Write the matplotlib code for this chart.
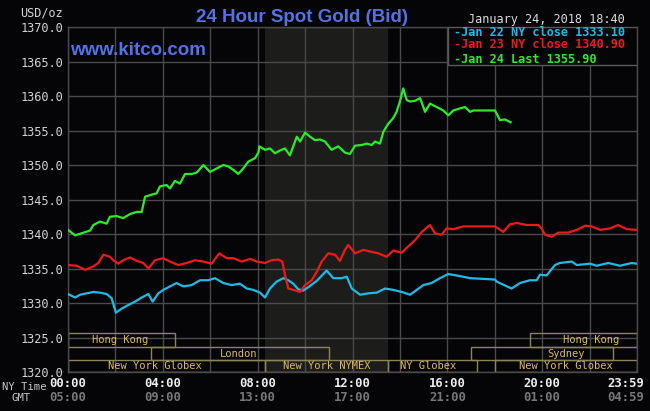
import matplotlib
matplotlib.use("Agg")
import matplotlib.pyplot as plt
import matplotlib.transforms as mtransforms
from matplotlib.patches import Rectangle

# --- values: hours after 00:00 NY time, price in USD/oz ---
jan22_t = [0.0, 0.30, 0.51, 0.79, 1.07, 1.35, 1.63, 1.84, 2.02, 2.27, 2.54, 2.83,
           3.11, 3.39, 3.57, 3.81, 4.02, 4.30, 4.58, 4.86, 5.22, 5.57, 5.92, 6.20,
           6.55, 6.90, 7.25, 7.54, 7.82, 8.10, 8.31, 8.52, 8.80, 9.08, 9.29, 9.50,
           9.71, 9.92, 10.14, 10.49, 10.91, 11.19, 11.54, 11.76, 11.97, 12.32, 12.67,
           13.02, 13.37, 13.72, 14.08, 14.43, 14.71, 14.99, 15.34, 15.69, 16.04, 16.53,
           16.96, 18.01, 18.08, 18.71, 19.07, 19.49, 19.77, 19.91, 20.19, 20.54, 20.75,
           21.25, 21.46, 22.02, 22.30, 22.79, 23.28, 23.78, 23.99]
jan22_v = [1331.3, 1330.8, 1331.2, 1331.4, 1331.6, 1331.5, 1331.3, 1330.7, 1328.6, 1329.2,
           1329.7, 1330.2, 1330.8, 1331.3, 1330.2, 1331.4, 1331.9, 1332.4, 1332.9, 1332.4,
           1332.6, 1333.3, 1333.3, 1333.6, 1332.9, 1332.6, 1332.8, 1332.1, 1331.9, 1331.5,
           1330.8, 1332.1, 1333.1, 1333.6, 1333.3, 1332.8, 1332.0, 1331.8, 1332.3, 1333.2,
           1334.7, 1333.6, 1333.6, 1333.8, 1332.1, 1331.2, 1331.4, 1331.5, 1332.1, 1331.9,
           1331.6, 1331.2, 1331.9, 1332.6, 1332.9, 1333.6, 1334.2, 1333.9, 1333.6, 1333.4,
           1333.1, 1332.1, 1332.9, 1333.3, 1333.3, 1334.1, 1334.0, 1335.5, 1335.8, 1336.0,
           1335.5, 1335.7, 1335.4, 1335.8, 1335.4, 1335.8, 1335.7]

jan23_t = [0.0, 0.37, 0.72, 1.07, 1.28, 1.49, 1.77, 1.91, 2.12, 2.33, 2.62, 2.90,
           3.18, 3.39, 3.67, 4.02, 4.30, 4.65, 5.01, 5.36, 5.71, 6.06, 6.38, 6.69,
           6.97, 7.33, 7.68, 7.96, 8.31, 8.59, 8.87, 9.04, 9.15, 9.29, 9.50, 9.79,
           10.00, 10.28, 10.49, 10.70, 10.98, 11.26, 11.47, 11.68, 11.82, 12.11, 12.46,
           12.81, 13.09, 13.44, 13.72, 14.08, 14.35, 14.64, 14.92, 15.27, 15.48, 15.76,
           15.97, 16.25, 16.67, 17.10, 18.01, 18.36, 18.64, 18.93, 19.35, 19.84, 19.98,
           20.12, 20.40, 20.68, 21.10, 21.46, 21.81, 22.09, 22.44, 22.86, 23.21, 23.57,
           23.99]
jan23_v = [1335.5, 1335.4, 1334.8, 1335.3, 1335.8, 1337.0, 1336.7, 1336.2, 1335.7, 1336.2,
           1336.6, 1336.1, 1335.8, 1335.0, 1336.2, 1336.5, 1336.0, 1335.5, 1335.8, 1336.2,
           1336.0, 1335.7, 1337.2, 1336.5, 1336.5, 1336.0, 1336.4, 1336.0, 1335.8, 1336.2,
           1336.3, 1336.0, 1334.1, 1332.1, 1331.9, 1331.6, 1332.6, 1333.3, 1334.5, 1336.0,
           1337.2, 1337.0, 1336.1, 1337.7, 1338.4, 1337.2, 1337.7, 1337.4, 1337.2, 1336.7,
           1337.6, 1337.3, 1338.2, 1339.1, 1340.3, 1341.3, 1340.1, 1339.9, 1340.8, 1340.7,
           1341.1, 1341.1, 1341.1, 1340.3, 1341.4, 1341.6, 1341.3, 1341.3, 1340.8, 1339.9,
           1339.6, 1340.2, 1340.2, 1340.6, 1341.2, 1341.1, 1340.6, 1340.8, 1341.3, 1340.7,
           1340.6]

jan24_t = [0.0, 0.30, 0.93, 1.07, 1.35, 1.63, 1.77, 2.05, 2.33, 2.62, 2.90, 3.11,
           3.25, 3.53, 3.74, 3.88, 4.16, 4.30, 4.51, 4.72, 4.94, 5.22, 5.43, 5.71,
           5.99, 6.27, 6.55, 6.76, 6.97, 7.18, 7.39, 7.61, 7.89, 8.03, 8.07, 8.31,
           8.52, 8.73, 8.94, 9.15, 9.36, 9.65, 9.79, 10.00, 10.21, 10.42, 10.63, 10.84,
           11.12, 11.40, 11.68, 11.89, 12.11, 12.39, 12.60, 12.81, 12.95, 13.16, 13.30,
           13.51, 13.72, 13.86, 14.00, 14.14, 14.29, 14.43, 14.64, 14.85, 15.06, 15.27,
           15.55, 15.83, 16.04, 16.25, 16.53, 16.75, 16.96, 17.10, 18.01, 18.22, 18.43,
           18.67]
jan24_v = [1340.6, 1339.8, 1340.5, 1341.3, 1341.8, 1341.5, 1342.5, 1342.6, 1342.3, 1342.9,
           1343.2, 1343.2, 1345.4, 1345.7, 1345.9, 1346.9, 1347.1, 1346.6, 1347.7, 1347.3,
           1348.7, 1348.7, 1348.9, 1350.0, 1349.0, 1349.5, 1350.0, 1349.8, 1349.3, 1348.7,
           1349.5, 1350.5, 1351.0, 1351.8, 1352.7, 1352.2, 1352.4, 1351.7, 1352.1, 1352.4,
           1351.4, 1354.1, 1353.4, 1354.7, 1354.1, 1353.6, 1353.7, 1353.4, 1352.2, 1352.7,
           1351.8, 1351.6, 1352.8, 1352.9, 1353.1, 1352.9, 1353.4, 1353.1, 1354.8, 1356.0,
           1356.8, 1357.7, 1359.2, 1361.1, 1359.4, 1359.2, 1359.3, 1359.7, 1357.7, 1358.9,
           1358.4, 1357.9, 1357.2, 1357.9, 1358.2, 1358.4, 1357.7, 1357.9, 1357.9, 1356.5,
           1356.6, 1356.2]

legend_lines = ["-Jan 22 NY close 1333.10",
                "-Jan 23 NY close 1340.90",
                "-Jan 24 Last 1355.90"]

y_ticks = [1320, 1325, 1330, 1335, 1340, 1345, 1350, 1355, 1360, 1365, 1370]
time_ticks = [0, 4, 8, 12, 16, 20, 24]
ny_labels = ["00:00", "04:00", "08:00", "12:00", "16:00", "20:00", "23:59"]
gmt_labels = ["05:00", "09:00", "13:00", "17:00", "21:00", "01:00", "04:59"]

# trading sessions: name, start, end (hours), row, label centre
sessions = [
    ("Hong Kong", 0.0, 4.5, 0, 2.2),
    ("Hong Kong", 19.5, 24.0, 0, 22.05),
    ("London", 3.5, 11.0, 1, 7.2),
    ("Sydney", 17.0, 23.0, 1, 21.0),
    ("New York Globex", 0.0, 8.33, 2, 3.65),
    ("New York NYMEX", 8.33, 13.5, 2, 10.9),
    ("NY Globex", 13.5, 17.25, 2, 15.2),
    ("New York Globex", 18.0, 24.0, 2, 21.0),
]
nymex_open, nymex_close = 8.33, 13.5

# --- styling ---
BG = "#050508"
GRID = "#4a4a4a"
MONO = "DejaVu Sans Mono"
CYAN, RED, GREEN = "#1ebbe6", "#ec1a1a", "#2aec2a"
TITLE_BLUE = "#5272e6"

W, H = 650, 411
fig = plt.figure(figsize=(W / 100, H / 100), dpi=100, facecolor=BG)
ax = fig.add_axes([68 / W, 39 / H, 569 / W, 345 / H])
ax.set_facecolor(BG)
ax.set_xlim(0, 24)
ax.set_ylim(1320, 1370)

ax.set_xticks(range(0, 25, 2))
ax.set_yticks(y_ticks)
ax.set_yticklabels([f"{v:.1f}" for v in y_ticks], fontfamily=MONO)
ax.tick_params(axis="x", length=0, labelbottom=False)
ax.tick_params(axis="y", length=0, pad=3.6, labelcolor="#d2d2d2", labelsize=8.6)
ax.grid(True, color=GRID, linewidth=1.0)
ax.set_axisbelow(True)
for sp in ax.spines.values():
    sp.set_color(GRID)
    sp.set_linewidth(1.0)

# NYMEX pit hours are shaded
ax.axvspan(nymex_open, nymex_close, color="#1c1d1a", zorder=0, linewidth=0)

ax.plot(jan22_t, jan22_v, color=CYAN, linewidth=1.6, zorder=3)
ax.plot(jan23_t, jan23_v, color=RED, linewidth=1.6, zorder=3)
ax.plot(jan24_t, jan24_v, color=GREEN, linewidth=1.6, zorder=3)

# session boxes along the bottom
rows = [(1323.6, 1325.65), (1321.75, 1323.6), (1320.0, 1321.75)]
for name, start, end, row, mid in sessions:
    y0, y1 = rows[row]
    ax.add_patch(Rectangle((start, y0), end - start, y1 - y0, fill=False,
                           edgecolor="#8c8456", linewidth=1.0, zorder=2))
    ax.text(mid, (y0 + y1) / 2, name, ha="center", va="center", fontsize=7.5,
            color="#dcbc58", fontfamily=MONO, zorder=2)

# legend box, top right
ax.add_patch(Rectangle((0.668, 0.89), 0.332, 0.11, transform=ax.transAxes,
                       facecolor=BG, edgecolor="#5a5a5a", linewidth=1.0, zorder=4))
for txt, col, yy in zip(legend_lines, [CYAN, RED, GREEN], [0.983, 0.948, 0.907]):
    ax.text(0.678, yy, txt, transform=ax.transAxes, ha="left", va="center",
            fontsize=8.6, color=col, fontfamily=MONO, fontweight="bold", zorder=5)

# time axis: NY time and GMT rows
trans = mtransforms.blended_transform_factory(ax.transData, ax.transAxes)
for t, ny, gmt in zip(time_ticks, ny_labels, gmt_labels):
    tr = trans
    if t == 24:
        tr = trans + mtransforms.ScaledTranslation(-11 / 100, 0, fig.dpi_scale_trans)
    ax.text(t, -0.032, ny, transform=tr, ha="center", va="center", fontsize=8.8,
            color="#ececec", fontfamily=MONO, fontweight="bold", clip_on=False)
    ax.text(t, -0.073, gmt, transform=tr, ha="center", va="center", fontsize=8.8,
            color="#787878", fontfamily=MONO, fontweight="bold", clip_on=False)

fig.text(47 / W, 1 - 387 / H, "NY Time", ha="right", va="center", fontsize=7.6,
         color="#c8c8c8", fontfamily=MONO)
fig.text(21 / W, 1 - 398 / H, "GMT", ha="center", va="center", fontsize=7.6,
         color="#c8c8c8", fontfamily=MONO)

# header texts
fig.text(63 / W, 1 - 13 / H, "USD/oz", ha="right", va="center", fontsize=8.6,
         color="#d2d2d2", fontfamily=MONO)
fig.text(302 / W, 1 - 22 / H, "24 Hour Spot Gold (Bid)", ha="center", va="baseline",
         fontsize=13.5, color=TITLE_BLUE, fontfamily="Liberation Sans", fontweight="bold")
fig.text(70 / W, 1 - 55 / H, "www.kitco.com", ha="left", va="baseline",
         fontsize=13.5, color=TITLE_BLUE, fontfamily="Liberation Sans", fontweight="bold")
fig.text(468 / W, 1 - 19 / H, "January 24, 2018 18:40", ha="left", va="center",
         fontsize=8.6, color="#dcdcdc", fontfamily=MONO)

fig.savefig("out.png", dpi=100, facecolor=fig.get_facecolor())
plt.close(fig)
